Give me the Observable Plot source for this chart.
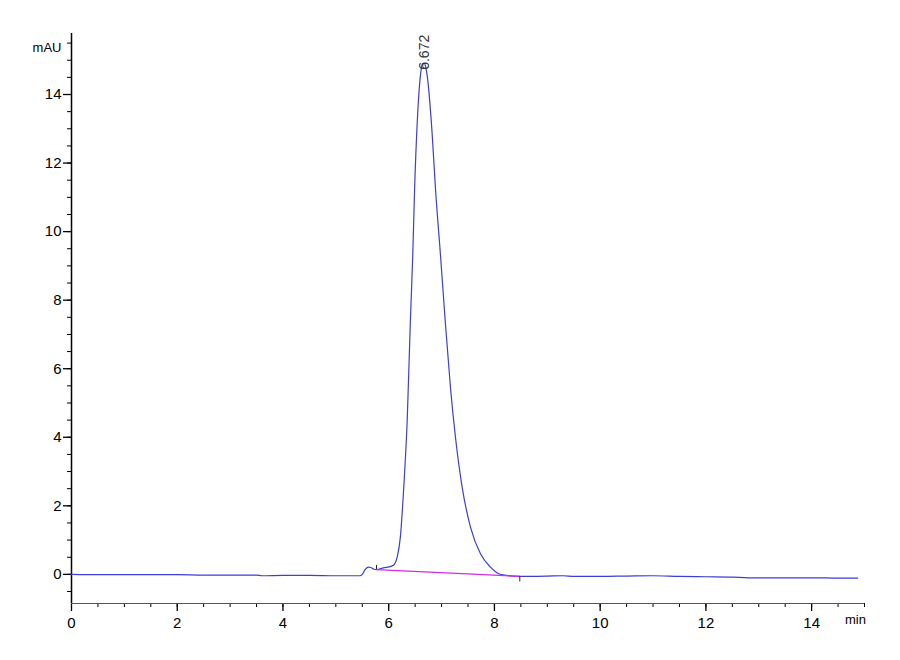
<!DOCTYPE html>
<html>
<head>
<meta charset="utf-8">
<script src="https://cdn.jsdelivr.net/npm/d3@7"></script>
<script src="https://cdn.jsdelivr.net/npm/@observablehq/plot@0.6"></script>
<style>
  html, body { margin: 0; padding: 0; background: #fff; }
  #chart { width: 900px; height: 660px; }
</style>
</head>
<body>
<div id="chart"></div>
<script>
// Chromatogram trace (retention time in min, absorbance in mAU)
const times = [
  0, 0.5, 1, 1.5, 2, 2.5, 3, 3.5, 3.6, 4, 4.5, 5, 5.45,
  5.5, 5.56, 5.62, 5.66, 5.72, 5.77, 5.9, 6.05, 6.1, 6.16,
  6.22, 6.285, 6.35, 6.41, 6.455, 6.49, 6.54, 6.6, 6.64, 6.67,
  6.7, 6.728, 6.82, 6.885, 6.98, 7.07, 7.168, 7.263, 7.39, 7.547,
  7.736, 7.925, 8.08, 8.23, 8.48, 9, 9.3, 9.5, 10, 10.5,
  11, 11.5, 12, 12.5, 12.8, 13.5, 14, 14.5, 14.87
];
const absorbance = [
  0, -0.01, -0.01, -0.01, -0.01, -0.02, -0.02, -0.02, -0.04, -0.03, -0.03, -0.04, -0.04,
  0.0, 0.15, 0.21, 0.2, 0.15, 0.14, 0.19, 0.24, 0.28, 0.5,
  1.08, 2.54, 4.49, 7.4, 9.3, 11.25, 13.19, 14.55, 14.9, 14.92,
  14.8, 14.55, 12.9, 11.25, 9.3, 7.38, 5.46, 4.0, 2.54, 1.38,
  0.6, 0.21, 0.02, -0.03, -0.06, -0.05, -0.04, -0.06, -0.06, -0.05,
  -0.04, -0.06, -0.07, -0.08, -0.1, -0.1, -0.1, -0.11, -0.11
];

// Integration baseline (start / end)
const baseTimes = [5.77, 8.48];
const baseValues = [0.14, -0.06];

// Peak annotation
const peakTimes = [6.672];
const peakValues = [14.72];
const peakLabels = ["6.672"];

// Axis ticks
const xMajor = [0, 2, 4, 6, 8, 10, 12, 14];
const xMinor = d3.range(0, 15.01, 0.5);
const yMajor = [0, 2, 4, 6, 8, 10, 12, 14];
const yMinor = d3.range(-0.5, 15.51, 0.5);

const trace = times.map((t, i) => ({t, a: absorbance[i]}));
const baseline = baseTimes.map((t, i) => ({t, a: baseValues[i]}));
const peaks = peakTimes.map((t, i) => ({t, a: peakValues[i], label: peakLabels[i]}));

const font = "'Liberation Sans', Arial, sans-serif";

const chart = Plot.plot({
  width: 900,
  height: 660,
  marginLeft: 71,
  marginRight: 36,
  marginTop: 33,
  marginBottom: 57,
  style: {fontFamily: font, fontSize: "15px", color: "#000", background: "#fff"},
  x: {domain: [0, 15]},
  y: {domain: [-0.85, 15.78]},
  marks: [
    // minor ticks
    Plot.axisX({ticks: xMinor, tickSize: 4, tickFormat: () => "", label: null, stroke: "#000"}),
    Plot.axisY({ticks: yMinor, tickSize: 4, tickFormat: () => "", label: null, stroke: "#000"}),
    // major ticks
    Plot.axisX({ticks: xMajor, tickSize: 8, tickPadding: 6, label: null, stroke: "#000", strokeWidth: 1.3}),
    Plot.axisY({ticks: yMajor, tickSize: 8, tickPadding: 2, label: null, stroke: "#000", strokeWidth: 1.3}),
    // axis lines
    Plot.ruleX([0], {stroke: "#000", strokeWidth: 1.5}),
    Plot.ruleY([-0.85], {stroke: "#555", strokeWidth: 1.2}),
    // trace
    Plot.line(trace, {x: "t", y: "a", stroke: "#3d3dd8", strokeWidth: 1.2, curve: "monotone-x"}),
    // integration baseline
    Plot.line(baseline, {x: "t", y: "a", stroke: "#d12ee0", strokeWidth: 1.3}),
    Plot.ruleX(baseline.slice(0, 1), {x: "t", y1: "a", y2: d => d.a + 0.12, stroke: "#222", strokeWidth: 1}),
    Plot.ruleX(baseline.slice(1), {x: "t", y1: "a", y2: d => d.a - 0.16, stroke: "#222", strokeWidth: 1}),
    // peak label
    Plot.text(peaks, {x: "t", y: "a", text: "label", rotate: -90, textAnchor: "start", fill: "#333", fontSize: 14}),
    // axis titles
    Plot.text(["mAU"], {frameAnchor: "top-left", dx: -10, dy: 9, textAnchor: "end", fontSize: 13}),
    Plot.text(["min"], {frameAnchor: "bottom-right", dx: -9, dy: 20, textAnchor: "middle", fontSize: 13})
  ]
});
document.getElementById("chart").appendChild(chart);
</script>
</body>
</html>
